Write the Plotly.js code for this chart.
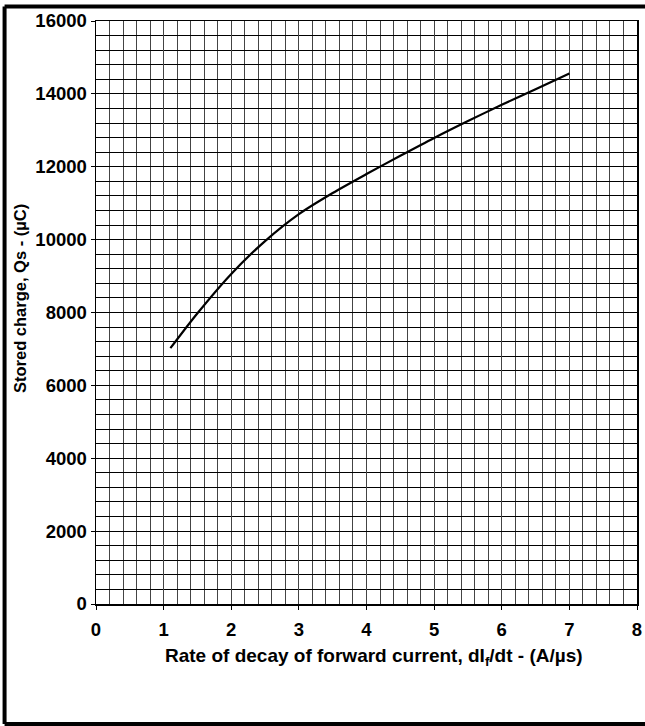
<!DOCTYPE html>
<html>
<head>
<meta charset="utf-8">
<script src="https://cdn.plot.ly/plotly-3.0.1.min.js"></script>
<style>html,body{margin:0;padding:0;background:#fff;}#chart{width:645px;height:726px;}</style>
</head>
<body>
<div id="chart"></div>
<script>
// Rate of decay of forward current (A/µs)
const rate = [1.1, 1.5, 2.0, 2.5, 3.0, 3.5, 4.0, 4.5, 5.0, 5.5, 6.0, 6.5, 7.0];
// Stored charge Qs (µC)
const storedCharge = [7020, 7980, 9060, 9960, 10700, 11280, 11800, 12300, 12790, 13255, 13700, 14130, 14560];
const xTickVals = [0, 1, 2, 3, 4, 5, 6, 7, 8];
const yTickVals = [0, 2000, 4000, 6000, 8000, 10000, 12000, 14000, 16000];
const xTitle = 'Rate of decay of forward current, dI<sub>f</sub>/dt - (A/µs)';
const yTitle = 'Stored charge, Qs - (µC)';

const fam = 'Liberation Sans, Arial, sans-serif';

const trace = {
  x: rate, y: storedCharge, type: 'scatter', mode: 'lines',
  line: {color: '#000', width: 2.2, shape: 'spline', smoothing: 0.8},
  hoverinfo: 'skip', showlegend: false
};

const tickFont = {family: fam, size: 18.5, color: '#000', weight: 'bold'};

const layout = {
  width: 645, height: 726,
  margin: {l: 96, r: 8, t: 21, b: 122},
  paper_bgcolor: '#fff', plot_bgcolor: '#fff',
  font: {family: fam, color: '#000'},
  xaxis: {
    range: [0, 8], tickvals: xTickVals, ticktext: xTickVals.map(String),
    showgrid: true, gridcolor: '#444', gridwidth: 1,
    minor: {dtick: 0.2, tick0: 0, showgrid: true, gridcolor: '#444', gridwidth: 1, ticks: ''},
    ticks: 'outside', ticklen: 4, tickcolor: '#000', tickwidth: 1,
    ticklabelstandoff: 4,
    showline: true, linecolor: '#000', linewidth: 1.5, mirror: true,
    zeroline: false, tickfont: tickFont
  },
  yaxis: {
    range: [0, 16000], tickvals: yTickVals, ticktext: yTickVals.map(String),
    showgrid: true, gridcolor: '#000', gridwidth: 1,
    minor: {dtick: 400, tick0: 0, showgrid: true, gridcolor: '#000', gridwidth: 1, ticks: ''},
    ticks: 'outside', ticklen: 4, tickcolor: '#000', tickwidth: 1,
    showline: true, linecolor: '#000', linewidth: 1.5, mirror: true,
    zeroline: false, tickfont: tickFont
  },
  annotations: [
    {text: xTitle, xref: 'paper', yref: 'paper', x: (373.5 - 96) / 541, y: (604 - 657) / 583,
     xanchor: 'center', yanchor: 'middle', showarrow: false,
     font: {family: fam, size: 19, color: '#000', weight: 'bold'}},
    {text: yTitle, xref: 'paper', yref: 'paper', x: (20 - 96) / 541, y: (604 - 299) / 583,
     xanchor: 'center', yanchor: 'middle', showarrow: false, textangle: -90,
     font: {family: fam, size: 16.5, color: '#000', weight: 'bold'}}
  ],
  shapes: [
    {type: 'line', xref: 'paper', yref: 'paper', x0: -0.169, x1: 1.1, y0: 1.0249, y1: 1.0249, line: {color: '#000', width: 4}},
    {type: 'line', xref: 'paper', yref: 'paper', x0: -0.169, x1: -0.169, y0: -0.2058, y1: 1.0249, line: {color: '#000', width: 4}},
    {type: 'line', xref: 'paper', yref: 'paper', x0: -0.169, x1: 1.1, y0: -0.2058, y1: -0.2058, line: {color: '#000', width: 4}}
  ]
};

Plotly.newPlot('chart', [trace], layout, {staticPlot: true, displayModeBar: false});
</script>
</body>
</html>
